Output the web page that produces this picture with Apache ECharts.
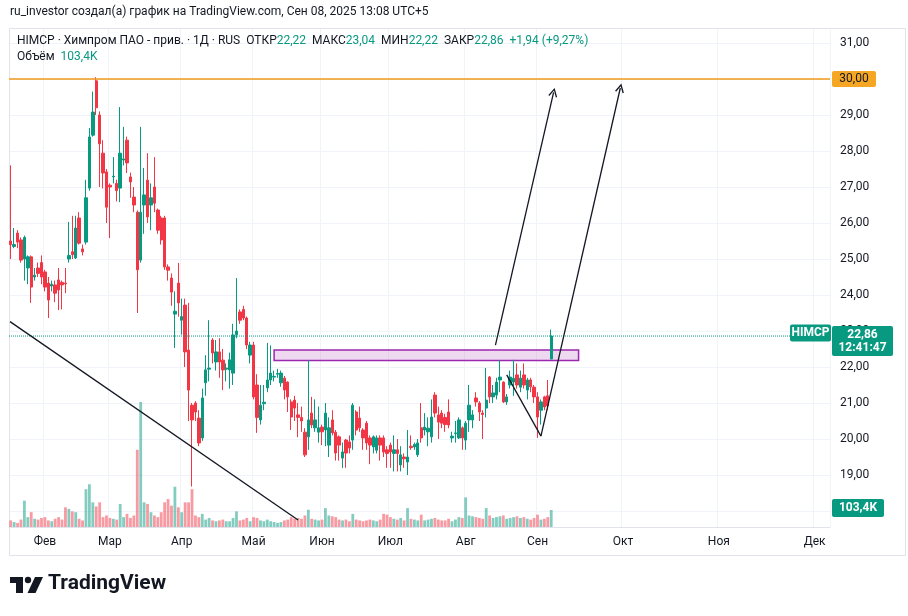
<!DOCTYPE html>
<html>
<head>
<meta charset="utf-8">
<title>HIMCP</title>
<script src="https://cdn.jsdelivr.net/npm/echarts@6/dist/echarts.min.js"></script>
<style>
  html, body { margin: 0; padding: 0; background: #ffffff; }
  #chart { width: 908px; height: 616px; }
</style>
</head>
<body>
<div id="chart"></div>
<script>
// daily candles, ECharts order: [open, close, low, high]
const candles = [
  [25.5,25.4,25.0,27.6],[25.35,25.4,25.3,25.86],[25.72,25.47,25.3,25.8],[25.53,24.97,24.9,25.6],
  [25.0,25.6,24.4,25.65],[24.75,25.06,24.3,25.1],[25.06,24.22,23.78,25.1],[24.5,24.55,24.4,24.75],
  [24.75,24.6,24.5,24.9],[24.9,24.5,24.3,25.1],[24.64,24.22,24.1,24.7],[24.33,23.86,23.36,24.5],
  [24.25,24.3,24.1,24.4],[24.28,24.05,23.8,24.4],[24.42,24.14,23.58,24.75],[24.35,24.28,23.6,24.4],
  [24.33,24.31,24.05,24.75],[25.0,25.1,24.9,26.03],[25.2,25.12,25.0,26.2],[25.03,25.86,25.0,26.2],
  [26.14,25.44,25.4,26.3],[25.28,25.2,25.1,25.4],[25.47,26.7,25.4,27.2],[26.97,28.39,26.9,28.64],
  [28.44,29.08,28.4,29.65],[29.95,29.2,29.0,30.05],[29.0,28.2,27.0,29.1],
  // март
  [27.94,27.39,26.96,28.3],[27.42,26.44,26.0,27.5],[27.05,27.0,25.58,27.1],[27.28,27.3,27.1,27.83],
  [27.1,26.9,26.6,27.2],[26.97,27.94,26.58,29.22],[27.75,27.78,27.6,28.67],[28.3,27.67,27.39,28.4],
  [27.28,27.14,26.7,27.4],[26.72,26.5,26.3,27.0],[26.3,24.7,23.5,26.35],[24.97,26.3,24.9,28.67],
  [26.5,26.78,25.7,27.53],[27.19,26.17,26.0,27.94],[26.5,26.7,25.8,27.1],[27.0,26.55,26.3,27.83],
  [26.36,25.8,25.7,26.4],[26.14,25.53,25.4,26.2],[26.14,24.78,24.7,26.2],[24.78,24.69,24.4,24.85],
  [24.47,24.08,23.7,24.6],[23.47,23.55,22.53,24.1],[24.33,23.78,23.4,24.89],[23.3,23.4,22.9,23.9],
  [23.72,22.42,22.0,23.9],
  // апрель - май
  [22.47,21.36,20.5,23.78],[20.94,20.53,18.68,21.0],[21.0,20.75,20.5,21.05],[20.58,19.89,19.8,20.8],
  [20.03,21.14,19.95,21.4],[21.56,21.92,21.2,22.33],[21.94,21.97,21.6,23.3],[22.75,22.39,22.1,22.8],
  [22.14,22.42,21.9,22.75],[22.42,22.14,21.7,22.8],[22.19,21.92,21.36,22.5],[21.94,21.97,21.6,22.1],
  [21.92,22.2,21.4,22.4],[21.83,22.89,21.5,23.2],[22.9,23.0,22.8,24.47],[23.53,23.3,23.2,23.6],
  [23.6,23.36,23.3,23.7],[23.36,22.61,22.5,23.4],[22.33,22.61,22.1,22.7],[22.61,21.17,21.1,22.7],
  [21.5,20.6,20.17,21.8],[20.53,20.94,20.4,21.5],[20.98,21.02,20.8,21.5],[21.42,21.64,21.3,22.67],
  [21.64,21.83,21.5,22.6],[21.72,21.74,21.6,21.9],[21.8,21.82,21.7,21.95],[21.56,21.83,21.45,21.9],
  // июнь
  [21.69,21.36,21.1,21.75],[21.58,21.17,20.75,21.6],[21.03,20.61,20.25,21.1],[21.08,20.86,20.5,21.2],
  [20.67,20.6,20.05,21.0],[20.6,20.5,20.2,20.9],[20.19,19.56,19.5,20.3],[20.06,20.53,19.7,22.19],
  [20.72,20.39,20.3,21.17],[20.31,20.53,20.2,21.1],[20.19,20.31,19.9,20.9],[20.33,20.2,19.83,20.4],
  [20.25,20.72,19.8,21.0],[19.83,20.31,19.5,20.6],[20.53,20.17,20.1,20.8],[20.19,19.61,19.4,20.25],
  [20.06,19.83,19.4,20.1],[19.47,19.64,19.19,19.9],[19.97,19.61,19.2,20.0],[19.92,19.75,19.6,20.1],
  [19.97,20.94,19.7,21.0],[20.75,20.25,20.1,20.8],[20.58,20.31,20.2,20.9],[20.25,20.03,19.7,20.3],
  [20.44,19.89,19.7,20.5],[20.03,19.83,19.3,20.1],
  // июль
  [19.78,20.06,19.6,20.1],[19.69,20.03,19.6,20.1],[20.03,19.83,19.4,20.1],[20.03,19.64,19.5,20.1],
  [19.7,19.6,19.2,19.8],[19.83,19.64,19.2,19.9],[19.6,19.7,19.1,20.1],[19.7,19.6,19.1,20.0],
  [19.28,19.56,19.1,19.8],[19.5,19.45,19.2,19.6],[19.36,19.5,19.0,20.25],[19.8,19.76,19.7,20.1],
  [19.78,19.85,19.7,19.9],[19.56,19.89,19.5,20.0],[20.31,20.03,19.9,21.0],[20.25,20.33,20.1,20.72],
  [20.2,20.3,19.8,20.6],[20.06,20.61,19.9,21.1],[21.22,20.72,20.6,21.3],[20.67,20.47,20.0,20.9],
  [20.72,20.44,20.3,20.8],[20.6,20.4,20.2,20.7],[20.75,20.39,20.3,21.1],[20.03,20.08,19.9,20.2],
  [20.15,20.17,19.9,20.5],[20.03,20.53,20.0,20.6],[20.31,20.03,19.7,20.35],
  // август - сентябрь
  [19.97,20.44,19.7,20.5],[20.53,20.94,20.2,21.5],[20.53,20.67,20.3,20.8],[21.14,21.03,20.9,21.3],
  [21.0,20.75,20.5,21.05],[20.72,20.68,20.0,20.8],[20.86,21.08,20.6,21.97],[21.72,21.17,21.0,21.75],
  [21.17,21.28,21.0,21.5],[21.22,21.58,21.1,21.7],[21.64,21.72,21.3,22.19],[21.58,21.03,21.0,21.6],
  [21.03,21.17,20.95,21.25],[21.5,21.72,21.4,21.9],[21.58,21.69,21.2,22.2],[21.78,21.5,21.4,22.1],
  [21.44,21.69,21.3,21.9],[21.78,21.5,21.4,22.1],[21.36,21.64,21.1,21.7],[21.64,21.45,21.3,21.7],
  [21.44,21.17,21.0,21.5],[21.17,20.61,20.03,21.3],[20.8,21.03,20.4,21.1],[21.17,20.89,20.8,21.2],
  [21.2,20.92,20.8,21.64],[22.22,22.86,22.22,23.04]
];

// volume, thousands of shares
const volumes = [
  40,30,25,45,160,60,90,50,45,55,60,40,35,50,60,45,120,110,95,90,50,40,230,260,150,125,150,
  60,70,55,50,45,140,60,80,55,70,470,760,150,140,90,70,60,90,150,170,130,245,120,90,150,
  150,230,70,60,80,45,55,40,35,40,45,35,35,55,95,40,45,55,35,60,55,40,35,45,35,30,25,30,
  40,45,60,50,55,50,70,105,50,45,40,45,115,70,65,60,45,40,45,35,80,45,40,35,40,45,
  40,35,45,80,75,60,50,45,55,40,115,50,45,40,75,40,45,50,55,45,40,40,50,35,45,60,55,
  180,70,65,60,55,50,115,70,55,60,65,70,50,55,60,65,55,60,50,45,55,75,45,50,60,103.4
];

// time scale: bar slots (data + empty future) and month labels by slot
const slotCount = 240;
const monthTicks = [[10,'Фев'],[29,'Мар'],[50,'Апр'],[71,'Май'],[91,'Июн'],[111,'Июл'],
                    [133,'Авг'],[154,'Сен'],[179,'Окт'],[207,'Ноя'],[235,'Дек']];

// drawings (slot index, price)
const trendLine = [[-0.2, 23.26], [84, 17.75]];
const arrowA = [[141.7, 22.61], [158.7, 29.63]];
const arrowB = [[145.0, 21.78], [155.0, 20.08], [178.2, 29.75]];
const zoneBox = [[77, 22.47], [166, 22.18]];
const resistance = 30;
const lastPrice = 22.86;

const UP = '#089981', DOWN = '#f23645', TXT = '#131722', GRID = '#f0f3fa';
const FONT = 'Roboto, "Liberation Sans", sans-serif';

const categories = Array.from({ length: slotCount }, (_, i) => String(i));
const monthAt = new Map(monthTicks);
const chevron = 'path://M5,0 L10,8.6 L8.7,9.4 L5,2.8 L1.3,9.4 L0,8.6 Z';
const fmt = v => v.toFixed(2).replace('.', ',');

// a horizontal price level across the whole plot
const level = (value, color, type, width) => ({
  type: 'line', xAxisIndex: 2, yAxisIndex: 0, silent: true, symbol: 'none', z: 4,
  data: [[-0.5, value], [slotCount - 0.5, value]],
  lineStyle: { color: color, width: width, type: type }
});

const chart = echarts.init(document.getElementById('chart'));

const option = {
  animation: false,
  backgroundColor: '#ffffff',
  textStyle: { fontFamily: FONT },
  grid: [
    { left: 9, right: 78, top: 43, bottom: 105 },
    { left: 9, right: 78, top: 28, bottom: 89 }
  ],
  xAxis: [
    { type: 'category', gridIndex: 0, data: categories, axisLine: { show: false },
      axisTick: { show: false }, axisLabel: { show: false }, splitLine: { show: false } },
    { type: 'category', gridIndex: 1, data: categories,
      axisLine: { lineStyle: { color: '#e0e3eb' } }, axisTick: { show: false },
      axisLabel: { interval: i => monthAt.has(i), formatter: (v, i) => monthAt.get(i) || '',
                   color: TXT, fontSize: 12, margin: 9 },
      splitLine: { show: true, interval: i => monthAt.has(i), lineStyle: { color: GRID } } },
    { type: 'value', gridIndex: 0, min: -0.5, max: slotCount - 0.5, show: false }
  ],
  yAxis: [
    { type: 'value', gridIndex: 0, position: 'right', min: 18, max: 31, interval: 1,
      axisLine: { show: false }, axisTick: { show: false },
      axisLabel: { margin: 10, color: TXT, fontSize: 12, formatter: fmt },
      splitLine: { lineStyle: { color: GRID } } },
    { type: 'value', gridIndex: 1, position: 'right', min: 0, max: 3035, show: false }
  ],
  series: [
    { type: 'bar', xAxisIndex: 1, yAxisIndex: 1, barWidth: 2.8, silent: true,
      data: volumes.map((v, i) => ({ value: v, itemStyle: {
        color: candles[i][1] >= candles[i][0] ? 'rgba(8,153,129,0.5)' : 'rgba(242,54,69,0.5)' } })) },
    level(resistance, '#f09a1a', 'solid', 1.4),
    level(lastPrice, UP, 'dotted', 1),
    { type: 'candlestick', xAxisIndex: 0, yAxisIndex: 0, data: candles, barWidth: 2.9,
      itemStyle: { color: UP, color0: DOWN, borderColor: UP, borderColor0: DOWN, borderWidth: 1 } },
    { type: 'line', xAxisIndex: 2, yAxisIndex: 0, data: trendLine, clip: false, symbol: 'none',
      silent: true, lineStyle: { color: TXT, width: 1.3 }, z: 5,
      markArea: { silent: true,
        itemStyle: { color: 'rgba(186,104,200,0.25)', borderColor: '#9c27b0', borderWidth: 1.5 },
        data: [[{ coord: zoneBox[0] }, { coord: zoneBox[1] }]] },
      markLine: { silent: true, symbol: ['none', 'none'], label: { show: false },
        lineStyle: { color: TXT, width: 1.3, type: 'solid' },
        data: [
          [{ coord: arrowA[0] }, { coord: arrowA[1], symbol: chevron, symbolSize: [9, 9] }],
          [{ coord: arrowB[0] }, { coord: arrowB[1] }],
          [{ coord: arrowB[1] }, { coord: arrowB[2], symbol: chevron, symbolSize: [9, 9] }]
        ] } }
  ]
};
chart.setOption(option);

// labels on the price scale, placed from the axes
const yP = v => chart.convertToPixel({ yAxisIndex: 0 }, v);
const yV = v => chart.convertToPixel({ yAxisIndex: 1 }, v);
const badge = (x, yc, w, h, fill, text, color, bold) => ([
  { type: 'rect', z: 100, shape: { x: x, y: yc - h / 2, width: w, height: h, r: 2 }, style: { fill: fill } },
  { type: 'text', z: 101, x: x + w / 2, y: yc, style: { text: text, fill: color, font: (bold ? 'bold ' : '') + '12px ' + FONT,
    textAlign: 'center', textVerticalAlign: 'middle', lineHeight: 13 } }
]);

chart.setOption({ graphic: [
  { type: 'rect', z: 0, shape: { x: 9.5, y: 28.5, width: 896, height: 527 },
    style: { fill: 'none', stroke: '#e0e3eb', lineWidth: 1 } },
  { type: 'text', left: 10, top: 6, style: { text: 'ru_investor создал(а) график на TradingView.com, Сен 08, 2025 13:08 UTC+5',
    fill: TXT, font: '12px ' + FONT } },
  { type: 'text', left: 17, top: 35, z: 100, style: {
    text: '{d|HIMCP · Химпром ПАО - прив. · 1Д · RUS  ОТКР}{g|22,22}{d|  МАКС}{g|23,04}{d|  МИН}{g|22,22}{d|  ЗАКР}{g|22,86}{g|  +1,94 (+9,27%)}',
    rich: { d: { fill: TXT, font: '12px ' + FONT }, g: { fill: UP, font: '12px ' + FONT } } } },
  { type: 'text', left: 17, top: 51, z: 100, style: {
    text: '{d|Объём}{g|  103,4K}',
    rich: { d: { fill: TXT, font: '12px ' + FONT }, g: { fill: UP, font: '12px ' + FONT } } } },
  ...badge(832, yP(resistance), 44, 16, '#f5a623', '30,00', TXT, false),
  ...badge(790, yP(lastPrice) - 3, 41, 17, UP, 'HIMCP', '#ffffff', true),
  ...badge(832, yP(lastPrice) + 5, 61, 30, UP, '22,86\n12:41:47', '#ffffff', true),
  ...badge(832, yV(103.4) - 2, 52, 18, UP, '103,4K', '#ffffff', true),
  // TradingView logo
  { type: 'rect', shape: { x: 10, y: 577, width: 13, height: 6 }, style: { fill: TXT } },
  { type: 'rect', shape: { x: 16, y: 577, width: 7, height: 16 }, style: { fill: TXT } },
  { type: 'circle', shape: { cx: 28, cy: 580, r: 3.2 }, style: { fill: TXT } },
  { type: 'polygon', shape: { points: [[35, 577], [43, 577], [35.5, 593], [27.5, 593]] }, style: { fill: TXT } },
  { type: 'text', left: 48, top: 573, style: { text: 'TradingView', fill: TXT, font: 'bold 21px ' + FONT } }
] });
</script>
</body>
</html>
